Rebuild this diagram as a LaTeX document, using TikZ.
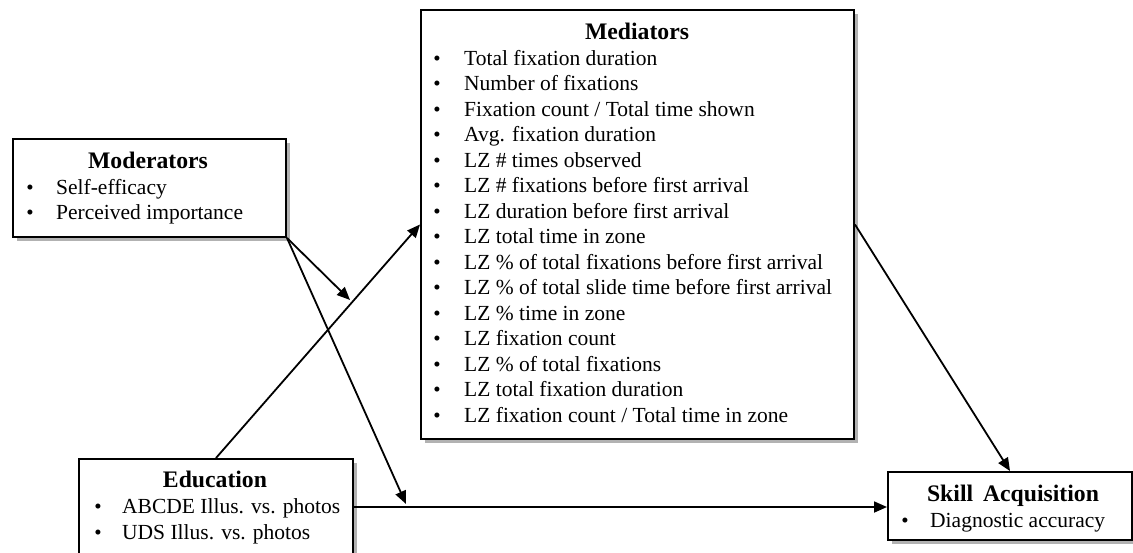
\documentclass[tikz,border=0pt]{standalone}
\usepackage{fontspec}
\setmainfont{Liberation Serif}
\usetikzlibrary{arrows.meta,shadows}
\begin{document}
\begin{tikzpicture}[x=1pt,y=-1pt,
  box/.style={draw=black, line width=2pt, fill=white, inner sep=0pt, anchor=north west,
    drop shadow={shadow xshift=4pt, shadow yshift=-4pt, fill=black, opacity=0.3}},
  ttl/.style={anchor=base, inner sep=0pt, font=\fontsize{23.7}{28}\selectfont\bfseries},
  itm/.style={anchor=base west, inner sep=0pt, font=\fontsize{21.5}{25.5}\selectfont},
  bul/.style={anchor=base, inner sep=0pt, font=\fontsize{21}{24}\selectfont},
  conn/.style={line width=1.8pt, -{Triangle[length=13pt,width=11pt]}}
]
\useasboundingbox (0,0) rectangle (1133,552);

% boxes
\node[box, minimum width=273pt, minimum height=98pt] (mod) at (12,138) {};
\node[box, minimum width=433pt, minimum height=429pt] (med) at (420,9) {};
\node[box, minimum width=274pt, minimum height=96pt] (edu) at (78,458) {};
\node[box, minimum width=244pt, minimum height=68pt] (sk) at (887,471) {};

% titles
\node[ttl] (modT) at (148,168) {Moderators};
\node[ttl] (medT) at (637,39) {Mediators};
\node[ttl] (eduT) at (215,487) {Education};
\node[ttl] (skT) at (1013,501) {Skill\, Acquisition};

% moderators items
\foreach \t [count=\i from 0] in {Self-efficacy, Perceived importance} {
  \node[bul] (modb\i) at (30,194+25*\i) {•};
  \node[itm] (modi\i) at (56,194+25*\i) {\t};
}

% mediators items
\foreach \t [count=\i from 0] in {
  Total fixation duration,
  Number of fixations,
  Fixation count / Total time shown,
  Avg. fixation duration,
  LZ \# times observed,
  LZ \# fixations before first arrival,
  LZ duration before first arrival,
  LZ total time in zone,
  LZ \% of total fixations before first arrival,
  LZ \% of total slide time before first arrival,
  LZ \% time in zone,
  LZ fixation count,
  LZ \% of total fixations,
  LZ total fixation duration,
  LZ fixation count / Total time in zone} {
  \node[bul] (medb\i) at (437,65+25.5*\i) {•};
  \node[itm] (medi\i) at (464,65+25.5*\i) {\t};
}

% education items
\foreach \t [count=\i from 0] in {ABCDE Illus. vs. photos, UDS Illus. vs. photos} {
  \node[bul] (edub\i) at (98,513+26*\i) {•};
  \node[itm] (edui\i) at (122,513+26*\i) {\t};
}

% skill items
\node[bul] (skb0) at (905,527) {•};
\node[itm] (ski0) at (930,527) {Diagnostic accuracy};

% connectors
\coordinate (t1) at (350,300);
\coordinate (t2) at (406,504);
\draw[conn] (edu.north) -- (med.west);
\draw[conn] (mod.south east) -- (t1);
\draw[conn] (mod.south east) -- (t2);
\draw[conn] (edu.east) -- (edu.east -| sk.west);
\draw[conn] (med.east) -- (sk.north);
\end{tikzpicture}
\end{document}
